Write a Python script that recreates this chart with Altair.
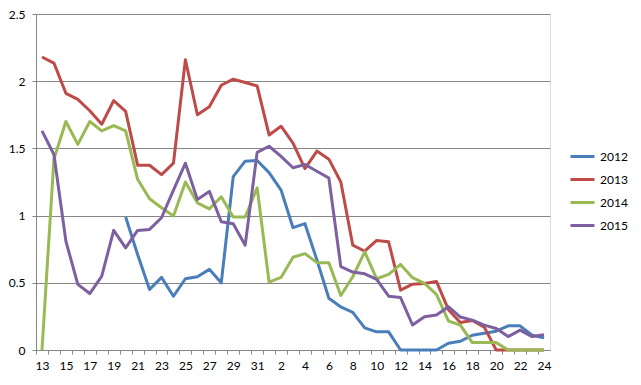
import altair as alt
import pandas as pd

weeks = ["13", "14", "15", "16", "17", "18", "19", "20", "21", "22", "23", "24", "25",
         "26", "27", "28", "29", "30", "31",
         "1", "2", "3", "4", "5", "6", "7", "8", "9", "10", "11", "12", "13", "14",
         "15", "16", "17", "18", "19", "20", "21", "22", "23", "24"]

years = ["2012", "2013", "2014", "2015"]
colors = ["#4A7EBB", "#BE4B48", "#98B954", "#7D60A0"]

s2012 = [None, None, None, None, None, None, None,
         0.99, 0.71, 0.45, 0.54, 0.40, 0.53, 0.545, 0.60, 0.50, 1.29, 1.405, 1.41,
         1.32, 1.19, 0.91, 0.94, 0.67, 0.385, 0.32, 0.28, 0.165, 0.135, 0.135,
         0.0, 0.0, 0.0, 0.0, 0.05, 0.065, 0.11, 0.125, 0.14, 0.18, 0.18, 0.11, 0.09]
s2013 = [2.18, 2.135, 1.91, 1.865, 1.78, 1.68, 1.855, 1.775, 1.375, 1.375, 1.305, 1.39,
         2.16, 1.75, 1.81, 1.97, 2.015, 1.99, 1.965,
         1.60, 1.665, 1.54, 1.35, 1.48, 1.42, 1.25, 0.78, 0.735, 0.815, 0.805, 0.445,
         0.49, 0.495, 0.51, 0.30, 0.205, 0.22, 0.17, 0.0, 0.0, 0.0, 0.0, 0.0]
s2014 = [0.0, 1.42, 1.70, 1.53, 1.70, 1.63, 1.67, 1.63, 1.27, 1.125, 1.058, 0.997,
         1.25, 1.095, 1.05, 1.14, 0.99, 0.99, 1.207,
         0.505, 0.54, 0.69, 0.717, 0.65, 0.65, 0.406, 0.545, 0.73, 0.53, 0.563, 0.637,
         0.538, 0.496, 0.414, 0.216, 0.185, 0.055, 0.055, 0.055, 0.0, 0.0, 0.0, 0.0]
s2015 = [1.63, 1.455, 0.81, 0.488, 0.42, 0.55, 0.89, 0.76, 0.89, 0.897, 0.984, 1.19,
         1.39, 1.12, 1.18, 0.954, 0.94, 0.78, 1.47,
         1.516, 1.44, 1.356, 1.38, 1.33, 1.28, 0.62, 0.58, 0.567, 0.525, 0.40, 0.39,
         0.186, 0.248, 0.26, 0.322, 0.245, 0.222, 0.185, 0.16, 0.10, 0.148, 0.10, 0.113]

y_ticks = [0, 0.5, 1, 1.5, 2, 2.5]

series = {"2012": s2012, "2013": s2013, "2014": s2014, "2015": s2015}
rows = []
for yr, vals in series.items():
    for i, v in enumerate(vals):
        if v is not None:
            rows.append({"idx": i, "year": yr, "value": v})
df = pd.DataFrame(rows)

tick_labels = [w if i % 2 == 0 else "" for i, w in enumerate(weeks)]
label_expr = "[" + ",".join("'%s'" % t for t in tick_labels) + "][datum.value]"

W = 514
H = 336
half_step = W / len(weeks) / 2

FONT = "Lato"

chart = alt.Chart(df).mark_line(strokeWidth=3, strokeJoin="round").encode(
    x=alt.X("idx:O", scale=alt.Scale(type="point", padding=0.5),
            axis=alt.Axis(title=None, labelExpr=label_expr, labelAngle=0,
                          labelOverlap=False, tickOffset=-half_step,
                          labelOffset=half_step, tickSize=4, labelPadding=6,
                          tickColor="#868686", domainColor="#868686",
                          labelFont=FONT, labelFontSize=12, labelColor="#000000")),
    y=alt.Y("value:Q", scale=alt.Scale(domain=[0, 2.5], nice=False, zero=True),
            axis=alt.Axis(title=None, values=y_ticks, format="~g", grid=True,
                          gridColor="#868686", gridWidth=1, tickSize=4,
                          tickColor="#868686", domainColor="#868686",
                          labelPadding=7, labelFont=FONT, labelFontSize=12,
                          labelColor="#000000")),
    color=alt.Color("year:N", scale=alt.Scale(domain=years, range=colors),
                    legend=alt.Legend(title=None, orient="none", legendX=533,
                                      legendY=129, symbolType="stroke",
                                      symbolSize=576, symbolStrokeWidth=3,
                                      rowPadding=3, labelFont=FONT,
                                      labelFontSize=12, labelColor="#000000",
                                      labelOffset=4)),
).properties(
    width=W, height=H,
    autosize=alt.AutoSizeParams(type="none"),
    padding={"left": 28, "top": 6, "right": 83, "bottom": 27},
).configure_view(stroke=None).configure(background="#ffffff")

chart.save("out.html", embed_options={"renderer": "svg", "actions": False})
